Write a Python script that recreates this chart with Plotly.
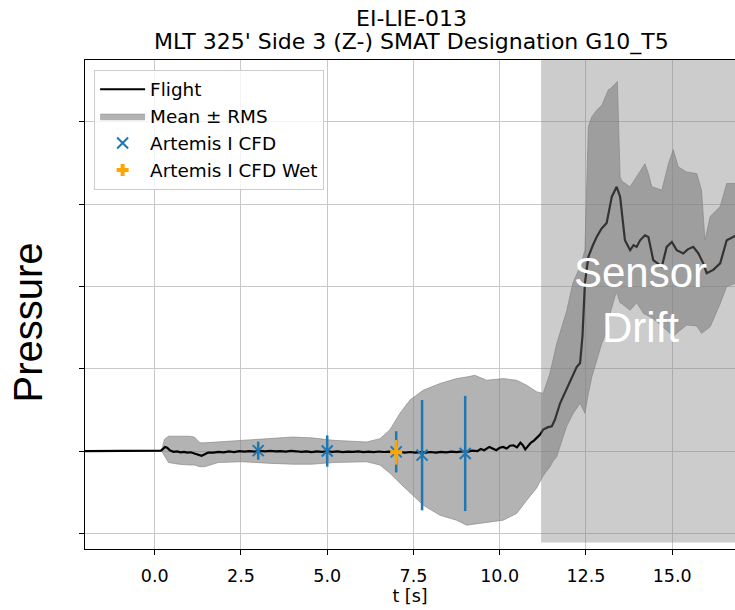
import plotly.graph_objects as go

# ---------------- data ----------------
flight_t = [-2.02, -1.0, 0.0, 0.18, 0.25, 0.30, 0.36, 0.45, 0.55, 0.65, 0.75, 0.85, 0.95, 1.05, 1.15,
            1.28, 1.36, 1.45, 1.55, 1.70, 1.85, 2.00, 2.15, 2.30, 2.45, 2.60, 2.75, 2.90, 3.05, 3.20,
            3.35, 3.50, 3.65, 3.80, 3.95, 4.10, 4.25, 4.40, 4.55, 4.70, 4.85, 5.00, 5.15, 5.30, 5.45,
            5.60, 5.75, 5.90, 6.05, 6.20, 6.35, 6.50, 6.65, 6.80, 6.95, 7.10, 7.25, 7.40, 7.55, 7.70,
            7.85, 8.00, 8.15, 8.30, 8.45, 8.60, 8.75, 8.90, 9.05, 9.20, 9.35, 9.45, 9.55, 9.70, 9.80,
            9.90, 10.00, 10.10, 10.20, 10.30, 10.40, 10.50, 10.60, 10.67, 10.74, 10.82, 10.90, 11.00,
            11.08, 11.17, 11.26, 11.40, 11.51, 11.60, 11.75, 11.90, 12.04, 12.23, 12.33, 12.40, 12.47,
            12.57, 12.70, 12.81, 12.95, 13.10, 13.25, 13.39, 13.49, 13.63, 13.78, 13.88, 13.97, 14.07,
            14.21, 14.31, 14.45, 14.70, 14.84, 14.99, 15.13, 15.32, 15.45, 15.61, 15.76, 15.90, 16.00,
            16.19, 16.39, 16.58, 16.85]
flight_p = [0.0, 0.0, 0.0, 0.005, 0.03, 0.05, 0.04, 0.005, -0.01, -0.005, -0.015, -0.01, -0.02, -0.015, -0.03,
            -0.05, -0.058, -0.04, -0.018, -0.02, -0.01, -0.015, -0.005, -0.012, -0.002, -0.008, 0.0, -0.006, 0.002, -0.004,
            0.003, -0.005, 0.0, -0.007, 0.002, -0.003, -0.01, -0.004, -0.012, -0.005, -0.01, -0.003, -0.01, -0.005, -0.012,
            -0.006, -0.01, -0.004, -0.012, -0.007, -0.013, -0.006, -0.012, -0.008, -0.015, -0.01, -0.018, -0.012, -0.02, -0.014,
            -0.02, -0.012, -0.018, -0.01, -0.016, -0.008, -0.014, -0.005, -0.01, 0.005, -0.002, 0.025, 0.01, 0.05, 0.03,
            0.01, 0.04, 0.05, 0.03, 0.065, 0.07, 0.045, 0.10, 0.07, 0.02, 0.06, 0.10, 0.13,
            0.16, 0.20, 0.26, 0.29, 0.30, 0.38, 0.58, 0.72, 0.86, 1.02, 1.07, 1.40, 2.04,
            2.36, 2.50, 2.60, 2.70, 2.77, 3.09, 3.21, 3.09, 2.56, 2.44, 2.50, 2.48, 2.56,
            2.62, 2.60, 2.32, 2.24, 2.48, 2.54, 2.44, 2.40, 2.45, 2.48, 2.40, 2.28, 2.16,
            2.20, 2.28, 2.56, 2.62]

band_t = [-2.02, 0.20, 0.28, 0.40, 0.70, 1.00, 1.15, 1.31, 1.45, 1.84, 2.52, 3.39, 4.00, 4.55, 5.18,
          6.14, 6.53, 6.82, 7.11, 7.40, 7.79, 8.27, 8.75, 9.04, 9.28, 9.62, 10.10, 10.49, 10.78, 11.07,
          11.26, 11.46, 11.55, 11.65, 11.94, 12.12, 12.33, 12.47, 12.57, 12.67, 12.81, 12.96, 13.15, 13.20,
          13.37, 13.41, 13.49, 13.54, 13.78, 13.97, 14.17, 14.21, 14.31, 14.41, 14.70, 14.89, 15.03, 15.18,
          15.42, 15.71, 15.85, 15.95, 16.10, 16.39, 16.58, 16.85]
band_hi = [0.0, 0.0, 0.14, 0.18, 0.18, 0.18, 0.17, 0.10, 0.10, 0.11, 0.13, 0.15, 0.17, 0.16, 0.13,
           0.11, 0.15, 0.26, 0.46, 0.62, 0.74, 0.82, 0.88, 0.90, 0.92, 0.86, 0.88, 0.86, 0.80, 0.72,
           0.70, 0.95, 1.11, 1.30, 1.70, 2.04, 2.24, 2.44, 3.94, 4.06, 4.14, 4.20, 4.39, 4.40,
           4.47, 4.49, 3.33, 3.28, 3.21, 3.33, 3.45, 3.49, 3.37, 3.21, 3.17, 3.49, 3.66, 3.45,
           3.39, 3.37, 3.17, 2.56, 2.85, 2.97, 3.25, 3.25]
band_lo = [0.0, 0.0, -0.06, -0.14, -0.16, -0.17, -0.17, -0.19, -0.19, -0.14, -0.13, -0.15, -0.16, -0.16, -0.14,
           -0.13, -0.17, -0.27, -0.39, -0.51, -0.66, -0.78, -0.84, -0.90, -0.89, -0.87, -0.84, -0.76, -0.60, -0.45,
           -0.30, -0.19, -0.12, -0.07, 0.30, 0.45, 0.58, 0.46, 0.70, 0.90, 1.10, 1.31, 1.50, 1.67,
           1.92, 1.90, 1.80, 1.79, 1.71, 1.80, 1.67, 1.66, 1.64, 1.62, 1.52, 1.45, 1.39, 1.45,
           1.53, 1.52, 1.43, 1.46, 1.51, 1.79, 2.00, 2.04]

cfd_t = [3.0, 5.0, 7.0, 7.75, 9.0]
cfd_p = [0.005, 0.0, -0.01, -0.05, -0.03]
cfd_err = [0.11, 0.19, 0.25, 0.67, 0.70]

wet_t = [7.0]
wet_p = [-0.015]
wet_err = [0.15]

drift_start = 11.2
drift_bottom = -1.11

x_range = [-2.02, 16.82]
y_range = [-1.19, 4.75]
x_ticks = [0.0, 2.5, 5.0, 7.5, 10.0, 12.5, 15.0]
x_tick_labels = ["0.0", "2.5", "5.0", "7.5", "10.0", "12.5", "15.0"]
y_ticks = [-1, 0, 1, 2, 3, 4]

title_line1 = "EI-LIE-013"
title_line2 = "MLT 325' Side 3 (Z-) SMAT Designation G10_T5"

# ---------------- figure ----------------
fig = go.Figure()

band_x = band_t + band_t[::-1]
band_y = band_hi + band_lo[::-1]
fig.add_trace(go.Scatter(
    x=band_x, y=band_y, fill="toself", mode="lines",
    fillcolor="rgba(128,128,128,0.6)", line=dict(color="rgba(128,128,128,0.6)", width=1),
    name="Mean ± RMS", legendrank=2, legendgroup="b", hoverinfo="skip"))

fig.add_trace(go.Scatter(
    x=flight_t, y=flight_p, mode="lines", line=dict(color="black", width=2.2),
    name="Flight", legendrank=1, legendgroup="a"))

fig.add_trace(go.Scatter(
    x=cfd_t, y=cfd_p, mode="markers", name="Artemis I CFD", legendrank=3, legendgroup="c",
    marker=dict(symbol="x-thin-open", size=11, color="#1f77b4", line=dict(color="#1f77b4", width=2)),
    error_y=dict(type="data", array=cfd_err, color="#1f77b4", thickness=2.5, width=0)))

fig.add_trace(go.Scatter(
    x=wet_t, y=wet_p, mode="markers", name="Artemis I CFD Wet", legendrank=4, legendgroup="d",
    marker=dict(symbol="cross", size=10, color="#FFA500", line=dict(width=0)),
    error_y=dict(type="data", array=wet_err, color="#FFA500", thickness=2.5, width=0)))

fig.add_shape(type="rect", xref="x", yref="y", x0=drift_start, x1=x_range[1],
              y0=drift_bottom, y1=y_range[1], fillcolor="rgba(128,128,128,0.4)",
              line=dict(width=0), layer="above")

fig.add_annotation(x=14.07, y=1.83, xref="x", yref="y", text="Sensor<br>Drift",
                   showarrow=False, font=dict(family="Liberation Sans", size=42, color="white"))

fig.add_annotation(x=-0.087, y=0.464, xref="paper", yref="paper", text="Pressure",
                   textangle=-90, showarrow=False, xanchor="center", yanchor="middle",
                   font=dict(family="Liberation Sans", size=40, color="black"))

fig.add_annotation(x=0.503, y=1.0843, xref="paper", yref="paper", text=title_line1,
                   showarrow=False, xanchor="center", yanchor="middle",
                   font=dict(family="DejaVu Sans", size=22, color="black"))
fig.add_annotation(x=0.503, y=1.0366, xref="paper", yref="paper", text=title_line2,
                   showarrow=False, xanchor="center", yanchor="middle",
                   font=dict(family="DejaVu Sans", size=22, color="black"))

fig.update_layout(
    width=735, height=610,
    margin=dict(l=85, r=0, t=60, b=61),
    paper_bgcolor="white", plot_bgcolor="white",
    font=dict(family="DejaVu Sans", size=17.5, color="black"),
    showlegend=True,
    legend=dict(x=0.014, y=0.98, xanchor="left", yanchor="top",
                bgcolor="rgba(255,255,255,0.8)", bordercolor="#cccccc", borderwidth=1,
                font=dict(family="DejaVu Sans", size=18.4), traceorder="grouped",
                tracegroupgap=0, itemwidth=45),
)

fig.update_xaxes(range=x_range, tickvals=x_ticks, ticktext=x_tick_labels,
                 showgrid=True, gridcolor="#c8c8c8", gridwidth=1, zeroline=False,
                 showline=True, linecolor="black", linewidth=1.2, mirror=True,
                 ticks="outside", ticklen=5, tickwidth=1.2, tickcolor="black",
                 tickfont=dict(size=17.5), ticklabelstandoff=6,
                 title=dict(text="t [s]", font=dict(size=17.5), standoff=2))
fig.update_yaxes(range=y_range, tickvals=y_ticks, showticklabels=False,
                 showgrid=True, gridcolor="#c8c8c8", gridwidth=1, zeroline=False,
                 showline=True, linecolor="black", linewidth=1.2,
                 ticks="outside", ticklen=5, tickwidth=1.2, tickcolor="black")

fig.write_html("out.html", config={"displayModeBar": False},
               post_script="document.body.style.margin='0px';document.body.style.overflow='hidden';")
